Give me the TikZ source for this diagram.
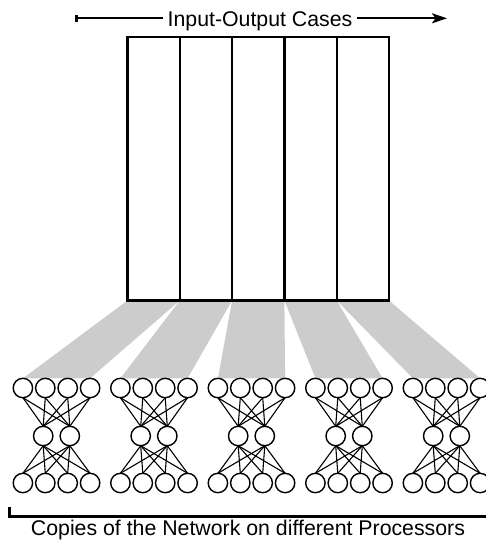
\documentclass[tikz,border=0pt]{standalone}
\usepackage{fontspec}
\setmainfont{Liberation Sans}
\usetikzlibrary{arrows.meta,backgrounds}
\definecolor{bandgray}{RGB}{204,204,204}
\begin{document}
\begin{tikzpicture}[x=1pt,y=-1pt,
  casebox/.style={draw, line width=2.3pt, minimum width=52.3pt, minimum height=263.5pt, inner sep=0pt, outer sep=0pt},
  unit/.style={circle, draw, fill=white, line width=1.4pt, minimum size=19.4pt, inner sep=0pt, outer sep=0pt},
  link/.style={line width=1.1pt},
  band/.style={fill=bandgray},
  lbl/.style={font=\fontsize{21.3}{25}\selectfont, inner sep=4pt}]
\useasboundingbox (0,0) rectangle (486,542);

% input-output cases
\foreach \i in {1,...,5}
  \node[casebox] (r\i) at ({127.5+52.3*(\i-0.5)},168.75) {};

% title with arrow
\node[lbl, anchor=base] (title) at (260,26) {Input-Output Cases};
\coordinate (aL) at (75,18.3);
\coordinate (aR) at (447,18.3);
\draw[line width=2.2pt, {Bar[width=7pt,line width=3pt]}-] (aL) -- (title.west |- aL);
\draw[line width=2.2pt, -{Stealth[length=15pt,width=10pt,inset=3.5pt]}] (title.east |- aR) -- (aR);

% networks
\foreach \k in {1,...,5}{
  \pgfmathsetmacro\cx{56.5+97.5*(\k-1)}
  \foreach \j in {1,...,4}{
    \node[unit] (t\k\j) at ({\cx+22.4*(\j-2.5)},388) {};
    \node[unit] (b\k\j) at ({\cx+22.4*(\j-2.5)},483) {};
  }
  \node[unit] (m\k1) at ({\cx-13.3},436) {};
  \node[unit] (m\k2) at ({\cx+13.3},436) {};
  \foreach \j in {1,...,4}{
    \foreach \m in {1,2}{
      \draw[link] (t\k\j.south) -- (m\k\m.north);
      \draw[link] (m\k\m.south) -- (b\k\j.north);
    }
  }
}

% bands from cases to networks
\begin{scope}[on background layer]
\foreach \k in {1,...,5}
  \fill[band] (r\k.south west) -- (r\k.south east) -- (t\k4.north) -- (t\k1.north) -- cycle;
\end{scope}

% bottom bracket and caption
\coordinate (bL) at (9.2,506.5);
\coordinate (bC) at (9.2,516);
\coordinate (bR) at (486,516);
\draw[line width=3pt, miter limit=10] (bL) -- (bC) -- (bR);
\node[lbl, anchor=base] (caption) at (248,535.7) {Copies of the Network on different Processors};
\end{tikzpicture}
\end{document}
